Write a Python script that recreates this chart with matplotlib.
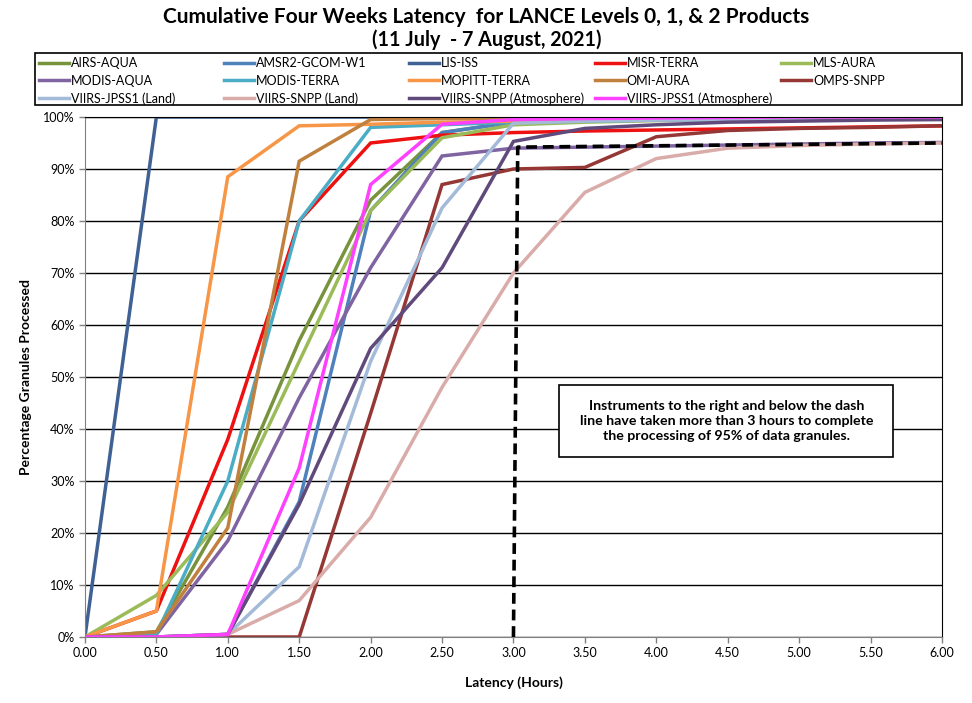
import matplotlib
matplotlib.use("Agg")
import matplotlib.pyplot as plt
from matplotlib.patches import Rectangle
from matplotlib.ticker import FuncFormatter

plt.rcParams["font.family"] = ["Lato", "DejaVu Sans"]

# latency (hours) sample points
hours = [0.0, 0.5, 1.0, 1.5, 2.0, 2.5, 3.0, 3.5, 4.0, 4.5, 5.0, 5.5, 6.0]

# cumulative % of granules processed, per product
airs_aqua = [0, 1, 25, 57, 84, 97, 99, 99.5, 99.6, 99.7, 99.8, 99.8, 99.9]
amsr2_gcom = [0, 0, 0.5, 26, 82, 97, 99, 99.3, 99.5, 99.6, 99.7, 99.8, 99.9]
lis_iss = [0, 100, 100, 100, 100, 100, 100, 100, 100, 100, 100, 100, 100]
misr_terra = [0, 5, 38, 80, 95, 96.5, 97, 97.3, 97.5, 97.7, 97.9, 98.1, 98.3]
mls_aura = [0, 8, 24, 53, 82, 96, 98.5, 99, 99.3, 99.5, 99.6, 99.7, 99.8]
modis_aqua = [0, 0.5, 18.5, 46, 71, 92.5, 94, 94.2, 94.4, 94.6, 94.8, 95, 95.1]
modis_terra = [0, 0.5, 30, 80, 98, 98.5, 99, 99.2, 99.4, 99.5, 99.6, 99.7, 99.8]
mopitt_terra = [0, 5, 88.5, 98.3, 98.6, 99, 99.2, 99.4, 99.5, 99.6, 99.7, 99.7, 99.8]
omi_aura = [0, 1, 21, 91.5, 99.5, 99.7, 99.8, 99.8, 99.9, 99.9, 99.9, 99.9, 99.9]
omps_snpp = [0, 0, 0, 0, 43, 87, 90, 90.3, 96.2, 97.4, 97.8, 98, 98.3]
viirs_jpss1_land = [0, 0, 0.5, 13.5, 53, 82.5, 98.8, 99.2, 99.4, 99.5, 99.6, 99.7, 99.8]
viirs_snpp_land = [0, 0, 0.5, 7, 23, 48, 70, 85.5, 92, 94, 94.5, 94.8, 95]
viirs_snpp_atm = [0, 0, 0.5, 25.5, 55.5, 71, 95.3, 97.8, 98.5, 99, 99.2, 99.4, 99.5]
viirs_jpss1_atm = [0, 0, 0.5, 32.5, 87, 98.6, 99.5, 99.7, 99.8, 99.9, 100, 100, 100]

# 3-hour / 95% guide line
guide_x = [3.0, 3.03, 6.0]
guide_y = [0, 94.2, 95.0]

series = [
    ("AIRS-AQUA", airs_aqua, "#77933C"),
    ("AMSR2-GCOM-W1", amsr2_gcom, "#4F81BD"),
    ("LIS-ISS", lis_iss, "#3F6193"),
    ("MISR-TERRA", misr_terra, "#EE1111"),
    ("MLS-AURA", mls_aura, "#9BBB59"),
    ("MODIS-AQUA", modis_aqua, "#8064A2"),
    ("MODIS-TERRA", modis_terra, "#4BACC6"),
    ("MOPITT-TERRA", mopitt_terra, "#F79646"),
    ("OMI-AURA", omi_aura, "#C0803E"),
    ("OMPS-SNPP", omps_snpp, "#953735"),
    ("VIIRS-JPSS1 (Land)", viirs_jpss1_land, "#A3BAD8"),
    ("VIIRS-SNPP (Land)", viirs_snpp_land, "#D9ACAA"),
    ("VIIRS-SNPP (Atmosphere)", viirs_snpp_atm, "#604A7B"),
    ("VIIRS-JPSS1 (Atmosphere)", viirs_jpss1_atm, "#FF40FF"),
]

fig = plt.figure(figsize=(9.72, 7.03), dpi=100)
ax = fig.add_axes([0.0874, 0.0939, 0.8817, 0.7397])

handles = []
for name, vals, col in series:
    h, = ax.plot(hours, vals, color=col, lw=2.5, label=name, solid_joinstyle="miter")
    handles.append(h)

ax.plot(guide_x, guide_y, color="black", lw=2.6, ls=(0, (3, 1.6)), zorder=5)

ax.set_xlim(0, 6)
ax.set_ylim(0, 100)
ax.set_xticks([i * 0.5 for i in range(13)])
ax.set_yticks(range(0, 101, 10))
ax.xaxis.set_major_formatter(FuncFormatter(lambda v, p: f"{v:.2f}"))
ax.yaxis.set_major_formatter(FuncFormatter(lambda v, p: f"{v:.0f}%"))
ax.tick_params(labelsize=9, length=4, color="#808080", width=1)
ax.yaxis.grid(True, color="black", lw=1)
ax.set_axisbelow(True)
for s in ("left", "bottom"):
    ax.spines[s].set_color("#808080")
for s in ("right", "top"):
    ax.spines[s].set_color("black")
    ax.spines[s].set_linewidth(0.8)

ax.set_xlabel("Latency (Hours)", fontsize=10, fontweight="bold", labelpad=12)
ax.set_ylabel("Percentage Granules Processed", fontsize=10, fontweight="bold", labelpad=8)

# annotation box
ax.add_patch(Rectangle((3.318, 34.6), 2.339, 13.9, facecolor="white", edgecolor="black",
                       lw=1.2, zorder=6))
ax.text(4.49, 41.5,
        "Instruments to the right and below the dash\n"
        "line have taken more than 3 hours to complete\n"
        "the processing of 95% of data granules.",
        ha="center", va="center", fontsize=10.2, fontweight="bold", linespacing=1.3, zorder=7)

fig.text(0.5005, 0.976, "Cumulative Four Weeks Latency  for LANCE Levels 0, 1, & 2 Products",
         ha="center", va="center", fontsize=15, fontweight="bold")
fig.text(0.5005, 0.944, "(11 July  - 7 August, 2021)",
         ha="center", va="center", fontsize=14.2, fontweight="bold")

# legend: five fixed-width columns, entries read row by row, inside one frame
col_x = [0.0401, 0.2305, 0.4208, 0.6121, 0.8035]
for c, x0 in enumerate(col_x):
    idx = [r * 5 + c for r in range(3) if r * 5 + c < len(handles)]
    fig.legend([handles[i] for i in idx], [handles[i].get_label() for i in idx],
               loc="upper left", bbox_to_anchor=(x0, 0.919), frameon=False,
               fontsize=9, handlelength=2.4, handletextpad=0.15, labelspacing=0.45,
               borderaxespad=0, borderpad=0)
fig.add_artist(Rectangle((0.036, 0.8506), 0.9537, 0.074, transform=fig.transFigure,
                         fill=False, edgecolor="black", lw=1.2))

fig.savefig("out.png", dpi=100, facecolor="white")
